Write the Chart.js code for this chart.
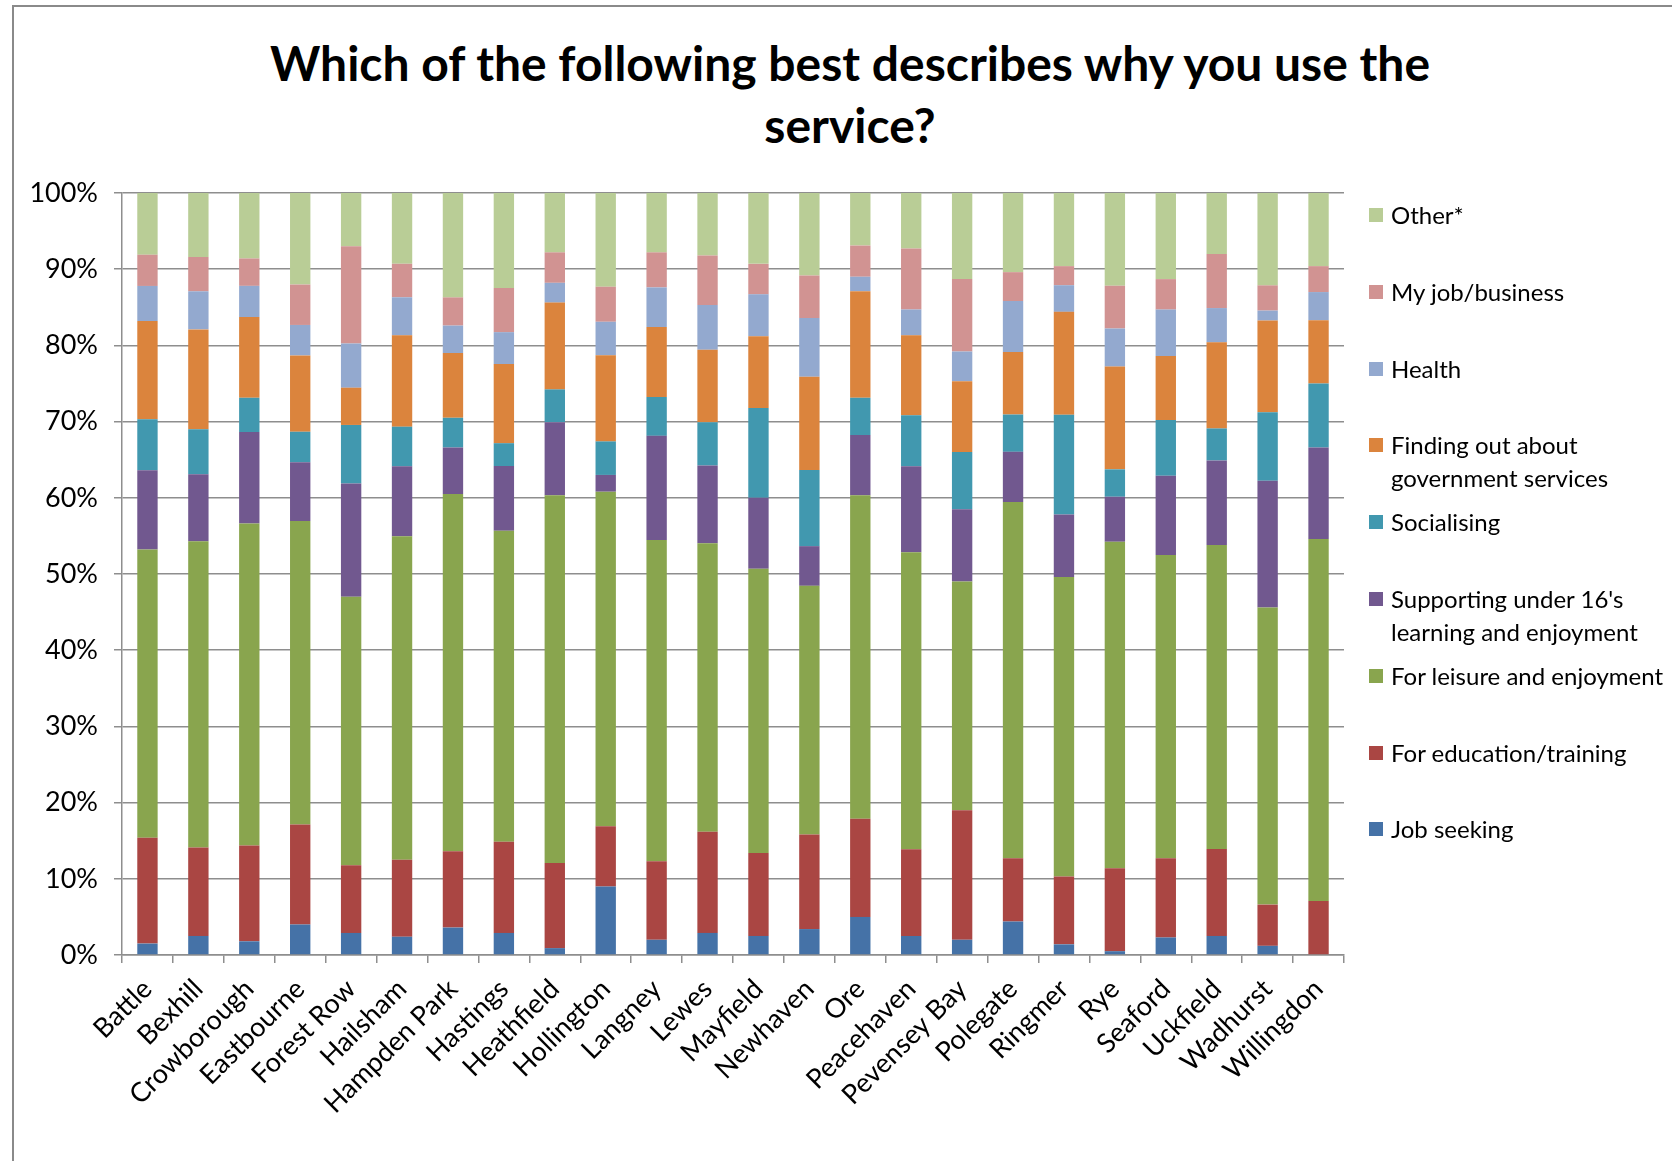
<!DOCTYPE html>
<html>
<head>
<meta charset="utf-8">
<script src="https://cdn.jsdelivr.net/npm/chart.js@4.4.1/dist/chart.umd.min.js"></script>
<style>
    html, body { margin: 0; padding: 0; background: #fff; }
    #wrap { position: relative; width: 1672px; height: 1161px; overflow: hidden; font-family: Lato, sans-serif; }
    #frame { position: absolute; left: 12px; top: 5px; width: 1700px; height: 1200px;
             border-top: 2px solid #8a8a8a; border-left: 2px solid #8a8a8a; }
    #title { position: absolute; left: 0; width: 1700px; top: 32px; text-align: center;
             font-weight: bold; font-size: 48px; line-height: 62px; color: #000; }
    #chart { position: absolute; left: 0; top: 0; }
    .item { position: absolute; left: 1369px; font-size: 24px; line-height: 33px; color: #000; white-space: nowrap; }
    .item i { position: absolute; left: 0; top: 10px; width: 14px; height: 14px; }
    .item span { display: block; margin-left: 22px; }
</style>
</head>
<body>
<div id="wrap">
    <div id="frame"></div>
    <div id="title">Which of the following best describes why you use the<br>service?</div>
    <canvas id="chart" width="1672" height="1161"></canvas>
    <div id="legend"></div>
</div>
<script>
// East Sussex libraries survey – reasons for using the service, by library

const categories = ['Battle', 'Bexhill', 'Crowborough', 'Eastbourne', 'Forest Row', 'Hailsham',
    'Hampden Park', 'Hastings', 'Heathfield', 'Hollington', 'Langney', 'Lewes', 'Mayfield',
    'Newhaven', 'Ore', 'Peacehaven', 'Pevensey Bay', 'Polegate', 'Ringmer', 'Rye', 'Seaford',
    'Uckfield', 'Wadhurst', 'Willingdon'];

// values, in %
const jobSeeking  = [1.5, 2.5, 1.8, 4.0, 2.9, 2.4, 3.6, 2.9, 0.9, 9.0, 2.0, 2.9, 2.5, 3.4, 5.0, 2.5, 2.0, 4.4, 1.4, 0.5, 2.3, 2.5, 1.2, 0];
const education   = [13.9, 11.6, 12.6, 13.1, 8.9, 10.1, 10.0, 12.0, 11.2, 7.9, 10.3, 13.3, 10.9, 12.4, 12.9, 11.4, 17.0, 8.3, 8.9, 10.9, 10.4, 11.4, 5.4, 7.1];
const leisure     = [37.8, 40.2, 42.3, 39.8, 35.3, 42.5, 46.9, 40.9, 48.3, 43.9, 42.2, 37.9, 37.3, 32.6, 42.5, 39.0, 30.0, 46.8, 39.3, 42.9, 39.8, 39.9, 38.9, 47.5];
const supporting  = [10.4, 8.8, 12.0, 7.7, 14.9, 9.2, 6.1, 8.5, 9.6, 2.2, 13.7, 10.2, 9.3, 5.2, 7.9, 11.3, 9.5, 6.6, 8.2, 5.9, 10.4, 11.1, 16.6, 12.0];
const socialising = [6.7, 5.9, 4.5, 4.0, 7.7, 5.2, 3.9, 3.0, 4.3, 4.4, 5.1, 5.7, 11.8, 10.0, 4.9, 6.7, 7.5, 4.9, 13.1, 3.6, 7.3, 4.2, 9.0, 8.4];
const findingOut  = [12.9, 13.1, 10.6, 10.0, 4.9, 12.0, 8.5, 10.4, 11.4, 11.3, 9.2, 9.5, 9.4, 12.2, 14.0, 10.5, 9.3, 8.2, 13.5, 13.5, 8.4, 11.3, 12.0, 8.3];
const health      = [4.6, 5.0, 4.1, 4.0, 5.8, 5.0, 3.6, 4.2, 2.6, 4.4, 5.2, 5.9, 5.5, 7.7, 1.9, 3.4, 3.9, 6.7, 3.5, 5.0, 6.1, 4.5, 1.3, 3.7];
const myJob       = [4.1, 4.5, 3.6, 5.3, 12.8, 4.4, 3.7, 5.8, 4.0, 4.6, 4.6, 6.5, 4.0, 5.6, 4.1, 8.0, 9.5, 3.8, 2.5, 5.6, 4.0, 7.1, 3.3, 3.4];
const other       = [8.1, 8.4, 8.6, 12.0, 7.0, 9.3, 13.7, 12.5, 7.8, 12.3, 7.8, 8.2, 9.3, 10.8, 6.9, 7.3, 11.3, 10.4, 9.6, 12.2, 11.3, 8.0, 12.1, 9.6];

const yTicks = [0, 10, 20, 30, 40, 50, 60, 70, 80, 90, 100];

const series = [
    { lines: ['Job seeking'], data: jobSeeking, color: '#4572A7' },
    { lines: ['For education/training'], data: education, color: '#AA4643' },
    { lines: ['For leisure and enjoyment'], data: leisure, color: '#89A54E' },
    { lines: ["Supporting under 16's", 'learning and enjoyment'], data: supporting, color: '#71588F' },
    { lines: ['Socialising'], data: socialising, color: '#4198AF' },
    { lines: ['Finding out about', 'government services'], data: findingOut, color: '#DB843D' },
    { lines: ['Health'], data: health, color: '#93A9CF' },
    { lines: ['My job/business'], data: myJob, color: '#D19392' },
    { lines: ['Other*'], data: other, color: '#B9CD96' },
];

// 100% stacked: share of each bar's total
const totals = categories.map((c, i) => series.reduce((s, d) => s + d.data[i], 0));

const GRID = '#8e8e8e';
const FONT = 'Lato, sans-serif';

new Chart(document.getElementById('chart').getContext('2d'), {
    type: 'bar',
    data: {
        labels: categories,
        datasets: series.map(s => ({
            label: s.lines.join(' '),
            data: s.data.map((v, i) => v / totals[i] * 100),
            backgroundColor: s.color,
            borderWidth: 0,
            categoryPercentage: 1,
            barPercentage: 0.4,
        }))
    },
    options: {
        responsive: false,
        animation: false,
        layout: { padding: { left: 12, right: 328, top: 193, bottom: 0 } },
        plugins: {
            legend: { display: false },
            title: { display: false },
            tooltip: { enabled: false }
        },
        scales: {
            x: {
                stacked: true,
                afterFit: scale => { scale.height = 206; },
                grid: {
                    offset: true,
                    drawOnChartArea: false,
                    drawTicks: true,
                    tickLength: 8,
                    color: GRID,
                    lineWidth: 1.5
                },
                border: { display: true, color: GRID, width: 1.5 },
                ticks: {
                    minRotation: 45,
                    maxRotation: 45,
                    autoSkip: false,
                    padding: 10,
                    color: '#000',
                    font: { family: FONT, size: 27 }
                }
            },
            y: {
                stacked: true,
                min: 0,
                max: 100,
                afterFit: scale => { scale.width = 110; },
                afterBuildTicks: scale => { scale.ticks = yTicks.map(v => ({ value: v })); },
                grid: {
                    color: GRID,
                    lineWidth: 1.5,
                    drawTicks: true,
                    tickLength: 8
                },
                border: { display: true, color: GRID, width: 1.5 },
                ticks: {
                    padding: 16,
                    color: '#000',
                    font: { family: FONT, size: 27 },
                    callback: v => v + '%'
                }
            }
        }
    }
});

// legend on the right, top entry first (reverse of stack order)
const legend = document.getElementById('legend');
series.slice().reverse().forEach((s, k) => {
    const el = document.createElement('div');
    el.className = 'item';
    el.style.top = (198 + k * 76.8) + 'px';
    el.innerHTML = '<i style="background:' + s.color + '"></i>' +
        s.lines.map(t => '<span>' + t + '</span>').join('');
    legend.appendChild(el);
});
</script>
</body>
</html>
